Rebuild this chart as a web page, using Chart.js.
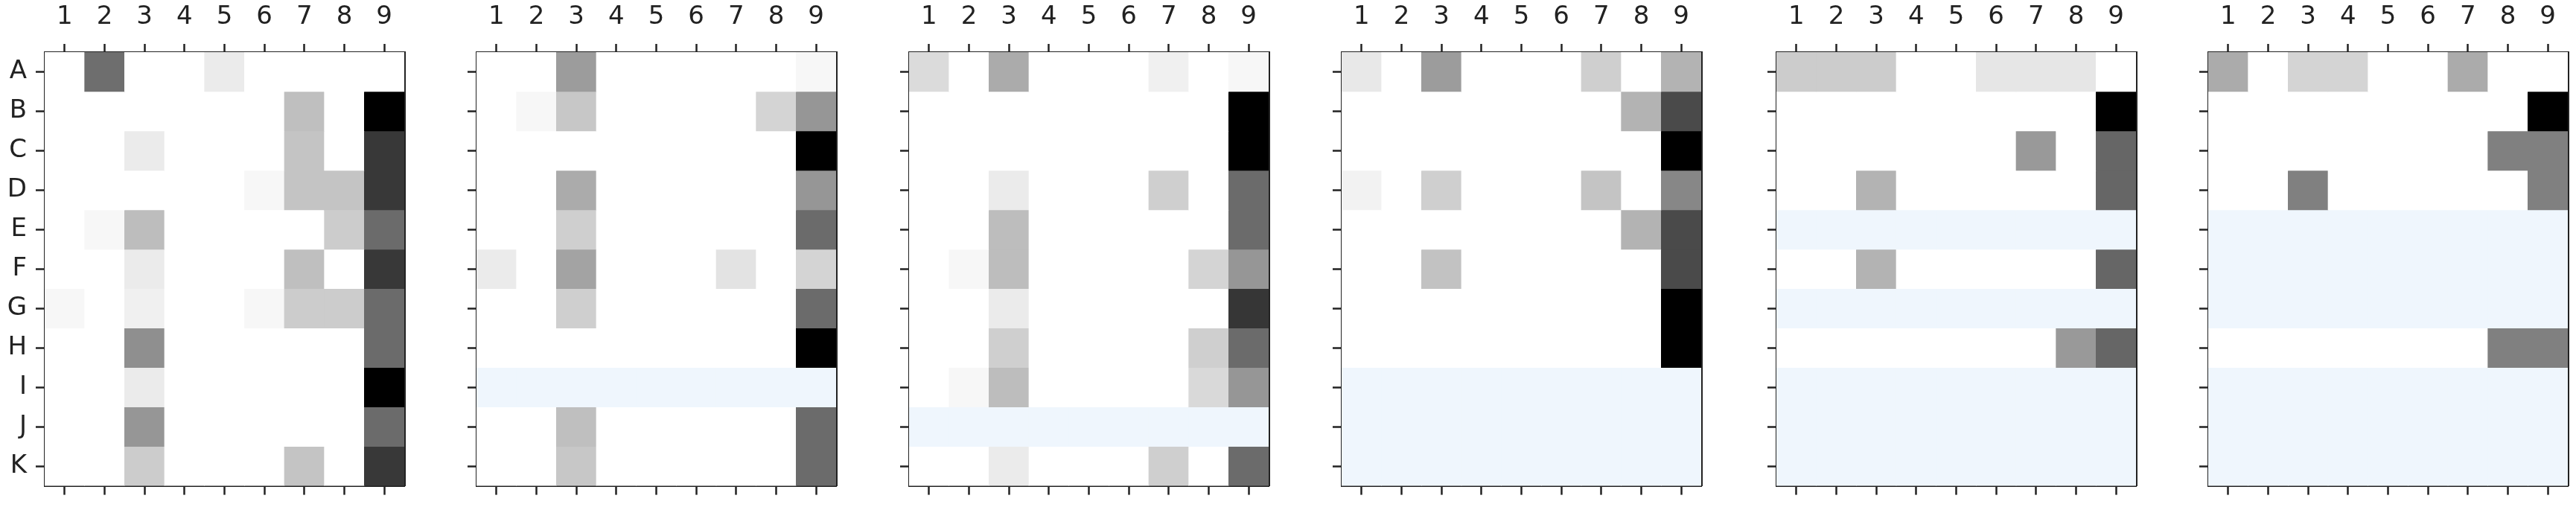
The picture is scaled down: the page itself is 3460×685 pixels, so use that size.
<!DOCTYPE html>
<html>
<head>
<meta charset="utf-8">
<script src="https://cdn.jsdelivr.net/npm/chart.js@4.4.1/dist/chart.umd.min.js"></script>
<style>
  html, body { margin: 0; padding: 0; background: #fff; width: 3460px; height: 685px; overflow: hidden; }
  canvas { position: absolute; top: 0; }
</style>
</head>
<body>
<canvas id="p1" width="551" height="685" style="left:0px"></canvas>
<canvas id="p2" width="551" height="685" style="left:580px"></canvas>
<canvas id="p3" width="551" height="685" style="left:1161px"></canvas>
<canvas id="p4" width="551" height="685" style="left:1742px"></canvas>
<canvas id="p5" width="551" height="685" style="left:2326px"></canvas>
<canvas id="p6" width="551" height="685" style="left:2906px"></canvas>
<script>
// columns and rows of every panel
const columns = ['1', '2', '3', '4', '5', '6', '7', '8', '9'];
const rows = ['A', 'B', 'C', 'D', 'E', 'F', 'G', 'H', 'I', 'J', 'K'];

// cell darkness (0 = white, 1 = black), null row = missing
const panel1 = [
  [0, 0.57, 0, 0, 0.08, 0, 0, 0, 0],
  [0, 0, 0, 0, 0, 0, 0.25, 0, 1],
  [0, 0, 0.08, 0, 0, 0, 0.23, 0, 0.78],
  [0, 0, 0, 0, 0, 0.03, 0.23, 0.23, 0.78],
  [0, 0.03, 0.26, 0, 0, 0, 0, 0.2, 0.58],
  [0, 0, 0.08, 0, 0, 0, 0.25, 0, 0.78],
  [0.03, 0, 0.06, 0, 0, 0.03, 0.2, 0.2, 0.58],
  [0, 0, 0.44, 0, 0, 0, 0, 0, 0.58],
  [0, 0, 0.08, 0, 0, 0, 0, 0, 1],
  [0, 0, 0.41, 0, 0, 0, 0, 0, 0.58],
  [0, 0, 0.2, 0, 0, 0, 0.23, 0, 0.78]
];
const panel2 = [
  [0, 0, 0.39, 0, 0, 0, 0, 0, 0.03],
  [0, 0.03, 0.22, 0, 0, 0, 0, 0.17, 0.41],
  [0, 0, 0, 0, 0, 0, 0, 0, 1],
  [0, 0, 0.33, 0, 0, 0, 0, 0, 0.41],
  [0, 0, 0.19, 0, 0, 0, 0, 0, 0.58],
  [0.08, 0, 0.36, 0, 0, 0, 0.11, 0, 0.17],
  [0, 0, 0.19, 0, 0, 0, 0, 0, 0.58],
  [0, 0, 0, 0, 0, 0, 0, 0, 1],
  null,
  [0, 0, 0.25, 0, 0, 0, 0, 0, 0.58],
  [0, 0, 0.22, 0, 0, 0, 0, 0, 0.58]
];
const panel3 = [
  [0.14, 0, 0.33, 0, 0, 0, 0.06, 0, 0.03],
  [0, 0, 0, 0, 0, 0, 0, 0, 1],
  [0, 0, 0, 0, 0, 0, 0, 0, 1],
  [0, 0, 0.08, 0, 0, 0, 0.19, 0, 0.58],
  [0, 0, 0.26, 0, 0, 0, 0, 0, 0.58],
  [0, 0.03, 0.26, 0, 0, 0, 0, 0.17, 0.41],
  [0, 0, 0.08, 0, 0, 0, 0, 0, 0.79],
  [0, 0, 0.19, 0, 0, 0, 0, 0.19, 0.58],
  [0, 0.03, 0.26, 0, 0, 0, 0, 0.15, 0.41],
  null,
  [0, 0, 0.08, 0, 0, 0, 0.19, 0, 0.58]
];
const panel4 = [
  [0.09, 0, 0.39, 0, 0, 0, 0.19, 0, 0.3],
  [0, 0, 0, 0, 0, 0, 0, 0.3, 0.71],
  [0, 0, 0, 0, 0, 0, 0, 0, 1],
  [0.05, 0, 0.19, 0, 0, 0, 0.23, 0, 0.47],
  [0, 0, 0, 0, 0, 0, 0, 0.3, 0.71],
  [0, 0, 0.24, 0, 0, 0, 0, 0, 0.71],
  [0, 0, 0, 0, 0, 0, 0, 0, 1],
  [0, 0, 0, 0, 0, 0, 0, 0, 1],
  null,
  null,
  null
];
const panel5 = [
  [0.2, 0.2, 0.2, 0, 0, 0.1, 0.1, 0.1, 0],
  [0, 0, 0, 0, 0, 0, 0, 0, 1],
  [0, 0, 0, 0, 0, 0, 0.4, 0, 0.6],
  [0, 0, 0.3, 0, 0, 0, 0, 0, 0.6],
  null,
  [0, 0, 0.3, 0, 0, 0, 0, 0, 0.6],
  null,
  [0, 0, 0, 0, 0, 0, 0, 0.4, 0.6],
  null,
  null,
  null
];
const panel6 = [
  [0.33, 0, 0.17, 0.17, 0, 0, 0.33, 0, 0],
  [0, 0, 0, 0, 0, 0, 0, 0, 1],
  [0, 0, 0, 0, 0, 0, 0, 0.5, 0.5],
  [0, 0, 0.5, 0, 0, 0, 0, 0, 0.5],
  null,
  null,
  null,
  [0, 0, 0, 0, 0, 0, 0, 0.5, 0.5],
  null,
  null,
  null
];

const ink = '#222222';
const nanColor = '#eff6fd';
const tickFont = { family: 'DejaVu Sans', size: 34 };

function shade(v) {
  if (v === null) return nanColor;
  const g = Math.round(255 * (1 - v));
  return `rgb(${g},${g},${g})`;
}

function makePanel(id, grid, showRowLabels) {
  const datasets = rows.map((row, i) => ({
    label: row,
    data: columns.map(() => [i - 0.5, i + 0.5]),
    backgroundColor: columns.map((c, j) => shade(grid[i] === null ? null : grid[i][j])),
    borderWidth: 0,
    grouped: false,
    barPercentage: 1,
    categoryPercentage: 1
  }));

  const border = { display: true, width: 3, color: ink };

  new Chart(document.getElementById(id), {
    type: 'bar',
    data: { labels: columns, datasets: datasets },
    options: {
      responsive: false,
      devicePixelRatio: 1,
      animation: false,
      layout: { padding: 0 },
      plugins: { legend: { display: false }, tooltip: { enabled: false } },
      scales: {
        x: {
          type: 'category', position: 'top', offset: true, z: 1,
          grid: { offset: false, drawOnChartArea: false, tickLength: 11, tickWidth: 2.5, tickColor: ink },
          border: border,
          ticks: { font: tickFont, color: ink, padding: 15, maxRotation: 0, autoSkip: false },
          afterFit: s => { s.height = 70; }
        },
        x2: {
          type: 'category', position: 'bottom', offset: true, z: 1,
          grid: { offset: false, drawOnChartArea: false, tickLength: 12, tickWidth: 2.5, tickColor: ink },
          border: border,
          ticks: { display: false },
          afterFit: s => { s.height = 23; }
        },
        y: {
          type: 'linear', position: 'left', reverse: true, min: -0.5, max: 10.5, z: 1,
          afterBuildTicks: s => { s.ticks = rows.map((r, i) => ({ value: i })); },
          grid: { drawOnChartArea: false, tickLength: 12, tickWidth: 2.5, tickColor: ink },
          border: border,
          ticks: { font: tickFont, color: ink, padding: 12, callback: v => showRowLabels ? rows[v] : '' },
          afterFit: s => { s.width = 60; }
        },
        y2: {
          type: 'linear', position: 'right', min: -0.5, max: 10.5, z: 1,
          grid: { drawOnChartArea: false, drawTicks: false },
          border: border,
          ticks: { display: false },
          afterFit: s => { s.width = 8; }
        }
      }
    }
  });
}

makePanel('p1', panel1, true);
makePanel('p2', panel2, false);
makePanel('p3', panel3, false);
makePanel('p4', panel4, false);
makePanel('p5', panel5, false);
makePanel('p6', panel6, false);
</script>
</body>
</html>
